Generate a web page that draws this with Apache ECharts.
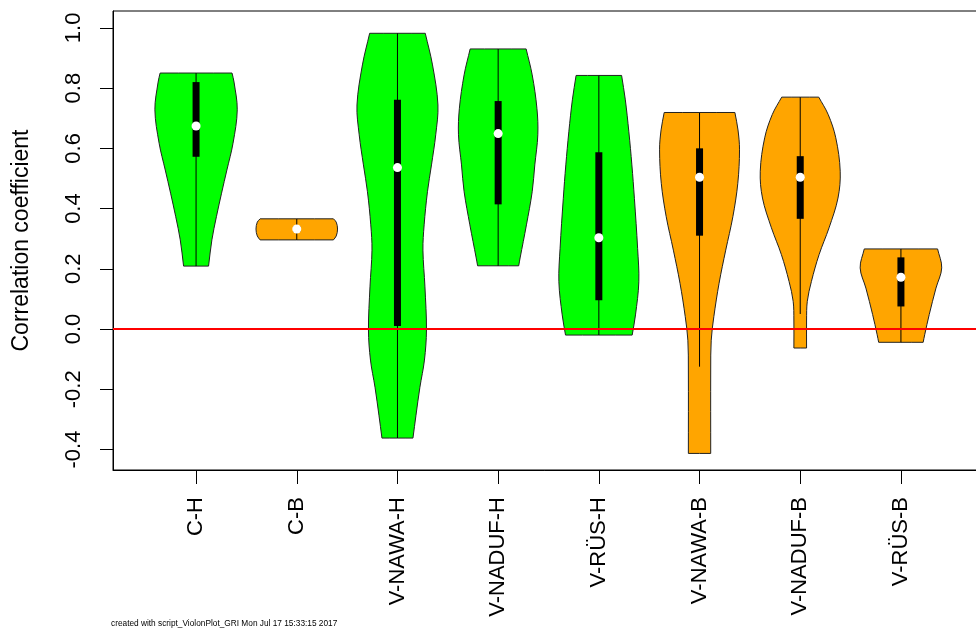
<!DOCTYPE html>
<html>
<head>
<meta charset="utf-8">
<script src="https://cdn.jsdelivr.net/npm/echarts@6/dist/echarts.min.js"></script>
<style>
  html, body { margin: 0; padding: 0; background: #fff; }
  #chart { width: 976px; height: 632px; }
</style>
</head>
<body>
<div id="chart"></div>
<script>
// Groups shown along the x axis
const categories = ['C-H', 'C-B', 'V-NAWA-H', 'V-NADUF-H', 'V-RÜS-H', 'V-NAWA-B', 'V-NADUF-B', 'V-RÜS-B'];
const groupColors = ['#00FF00', '#FFA500', '#00FF00', '#00FF00', '#00FF00', '#FFA500', '#FFA500', '#FFA500'];

// Density outline of each violin: correlation levels (top to bottom) and half widths (x units)
const violinLevels = [
  [0.850, 0.820, 0.728, 0.617, 0.528, 0.451, 0.373, 0.296, 0.209],
  [0.366, 0.355, 0.332, 0.309, 0.296],
  [0.982, 0.877, 0.744, 0.645, 0.545, 0.456, 0.346, 0.262, 0.140, -0.003, -0.103, -0.193, -0.286, -0.362],
  [0.930, 0.844, 0.733, 0.645, 0.545, 0.456, 0.346, 0.236, 0.210],
  [0.842, 0.761, 0.655, 0.545, 0.434, 0.268, 0.157, 0.047, -0.020],
  [0.719, 0.661, 0.595, 0.484, 0.373, 0.262, 0.152, 0.041, -0.037, -0.136, -0.413],
  [0.770, 0.712, 0.635, 0.524, 0.435, 0.336, 0.247, 0.158, 0.092, 0.030, -0.063],
  [0.266, 0.203, 0.136, 0.048, -0.019, -0.044]
];
const violinHalfWidths = [
  [0.357, 0.377, 0.409, 0.367, 0.306, 0.253, 0.202, 0.157, 0.124],
  [0.364, 0.392, 0.405, 0.392, 0.364],
  [0.276, 0.348, 0.402, 0.380, 0.338, 0.298, 0.265, 0.253, 0.273, 0.288, 0.268, 0.223, 0.184, 0.154],
  [0.278, 0.338, 0.385, 0.394, 0.364, 0.338, 0.281, 0.218, 0.204],
  [0.226, 0.263, 0.298, 0.328, 0.353, 0.385, 0.397, 0.364, 0.331],
  [0.351, 0.382, 0.397, 0.380, 0.331, 0.260, 0.194, 0.142, 0.116, 0.111, 0.111],
  [0.184, 0.278, 0.353, 0.397, 0.375, 0.286, 0.187, 0.111, 0.070, 0.063, 0.063],
  [0.364, 0.405, 0.348, 0.281, 0.236, 0.221]
];

// Box statistics per group
const whiskerLow  = [0.209, 0.296, -0.362, 0.210, -0.020, -0.125, 0.050, -0.044];
const whiskerHigh = [0.850, 0.366, 0.982, 0.930, 0.842, 0.719, 0.770, 0.266];
const quartile1   = [0.572, 0.322, 0.010, 0.414, 0.096, 0.310, 0.366, 0.075];
const medians     = [0.674, 0.332, 0.536, 0.649, 0.303, 0.504, 0.504, 0.172];
const quartile3   = [0.820, 0.342, 0.761, 0.757, 0.587, 0.600, 0.574, 0.238];

// Axis ticks
const yTicks = [-0.4, -0.2, 0.0, 0.2, 0.4, 0.6, 0.8, 1.0];
const xTicks = [1, 2, 3, 4, 5, 6, 7, 8];
const referenceLevel = 0;

const FONT = '"Liberation Sans", Arial, sans-serif';
const xMin = 0.175, xMax = 8.825;

function renderViolin(params, api) {
  const i = params.dataIndex;
  const xc = api.value(0);
  const lv = violinLevels[i];
  const hw = violinHalfWidths[i];
  const n = lv.length;
  // right side top->bottom, left side bottom->top; the four corners are
  // doubled so the smoothed outline keeps flat, sharp top and bottom edges
  const pts = [];
  for (let k = 0; k < n; k++) {
    const p = api.coord([xc + hw[k], lv[k]]);
    pts.push(p);
    if (k === 0 || k === n - 1) pts.push(p.slice());
  }
  for (let k = n - 1; k >= 0; k--) {
    const p = api.coord([xc - hw[k], lv[k]]);
    pts.push(p);
    if (k === 0 || k === n - 1) pts.push(p.slice());
  }

  const lo = api.coord([xc, whiskerLow[i]]);
  const hi = api.coord([xc, whiskerHigh[i]]);
  const b1 = api.coord([xc, quartile1[i]]);
  const b3 = api.coord([xc, quartile3[i]]);
  const md = api.coord([xc, medians[i]]);

  return {
    type: 'group',
    children: [
      { type: 'polygon', shape: { points: pts, smooth: 0.35 },
        style: { fill: groupColors[i], stroke: '#222', lineWidth: 1 } },
      { type: 'line', shape: { x1: lo[0], y1: lo[1], x2: hi[0], y2: hi[1] },
        style: { stroke: '#000', lineWidth: 1 } },
      { type: 'rect', shape: { x: b3[0] - 3.5, y: b3[1], width: 7, height: b1[1] - b3[1] },
        style: { fill: '#000' } },
      { type: 'circle', shape: { cx: md[0], cy: md[1], r: 4.5 },
        style: { fill: '#fff' } }
    ]
  };
}

const chart = echarts.init(document.getElementById('chart'), null, { renderer: 'canvas' });
chart.setOption({
  animation: false,
  backgroundColor: '#fff',
  title: {
    text: 'created with script_ViolonPlot_GRI Mon Jul 17 15:33:15 2017',
    left: 111, top: 620, padding: 0,
    textStyle: { fontFamily: FONT, fontSize: 8.3, fontWeight: 'normal', color: '#000' }
  },
  grid: {
    left: 113, top: 11, right: -8, bottom: 162,
    outerBoundsMode: 'none',
    show: true, borderColor: '#000', borderWidth: 1, backgroundColor: 'transparent'
  },
  xAxis: {
    type: 'value', min: xMin, max: xMax,
    axisLine: { show: true, onZero: false, lineStyle: { color: '#000', width: 1 } },
    axisTick: { show: true, customValues: xTicks, length: 14, lineStyle: { color: '#000' } },
    axisLabel: {
      show: true, customValues: xTicks, rotate: 90, margin: 27,
      fontFamily: FONT, fontSize: 22, color: '#000',
      formatter: v => categories[Math.round(v) - 1] || ''
    },
    splitLine: { show: false }
  },
  yAxis: {
    type: 'value', min: -0.468, max: 1.056,
    name: 'Correlation coefficient', nameLocation: 'middle', nameRotate: 90, nameGap: 80,
    nameTextStyle: { fontFamily: FONT, fontSize: 23, color: '#000' },
    axisLine: { show: true, onZero: false, lineStyle: { color: '#000', width: 1 } },
    axisTick: { show: true, customValues: yTicks, length: 13, lineStyle: { color: '#000' } },
    axisLabel: {
      show: true, customValues: yTicks, rotate: 90, margin: 28,
      fontFamily: FONT, fontSize: 22, color: '#000',
      formatter: v => v.toFixed(1)
    },
    splitLine: { show: false }
  },
  series: [
    {
      type: 'custom',
      renderItem: renderViolin,
      data: xTicks.map(x => [x]),
      encode: { x: 0 },
      z: 2
    },
    {
      type: 'line',
      data: [[xMin, referenceLevel], [xMax, referenceLevel]],
      symbol: 'none',
      lineStyle: { color: '#FF0000', width: 2 },
      z: 5,
      silent: true
    }
  ]
});
</script>
</body>
</html>
